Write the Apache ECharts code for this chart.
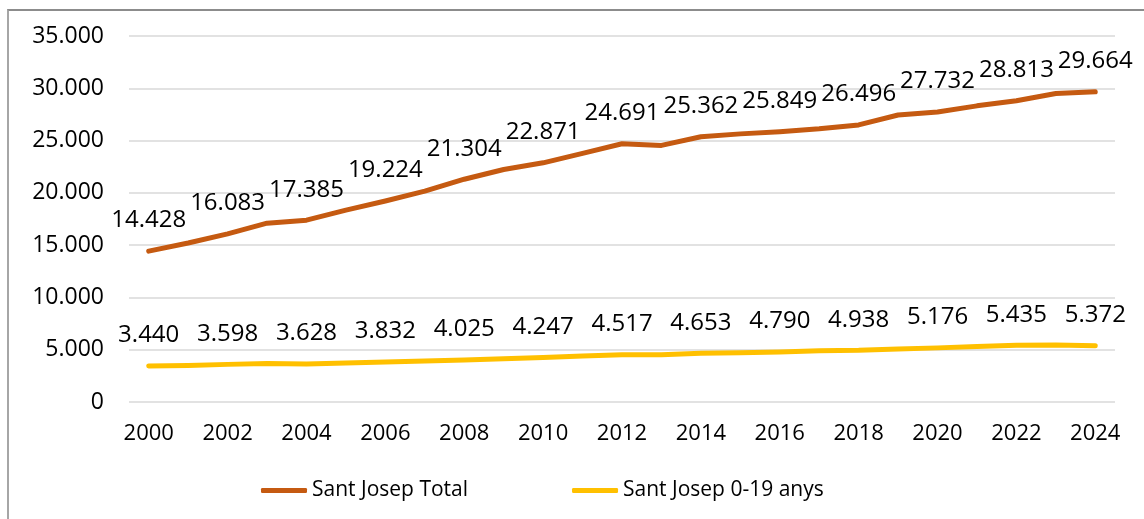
<!DOCTYPE html>
<html>
<head>
<meta charset="utf-8">
<script src="https://cdn.jsdelivr.net/npm/echarts@6/dist/echarts.min.js"></script>
<style>
  html, body { margin: 0; padding: 0; background: #fff; }
  #chart {
    position: absolute;
    left: 7px;
    top: 9px;
    width: 1137px;
    height: 510px;
    border-left: 2px solid #a6a6a6;
    border-top: 2px solid #8c8c8c;
    box-sizing: border-box;
  }
</style>
</head>
<body>
<div id="chart"></div>
<script>
// 年份与数值（从图上读取，奇数年份为估计值）
const years = ['2000', '2001', '2002', '2003', '2004', '2005', '2006', '2007', '2008', '2009',
  '2010', '2011', '2012', '2013', '2014', '2015', '2016', '2017', '2018', '2019',
  '2020', '2021', '2022', '2023', '2024']
const totalValues = [14428, 15200, 16083, 17100, 17385, 18350, 19224, 20160, 21304, 22230,
  22871, 23780, 24691, 24540, 25362, 25640, 25849, 26130, 26496, 27450,
  27732, 28320, 28813, 29500, 29664]
const youthValues = [3440, 3500, 3598, 3680, 3628, 3740, 3832, 3920, 4025, 4140,
  4247, 4390, 4517, 4530, 4653, 4720, 4790, 4900, 4938, 5060,
  5176, 5300, 5435, 5460, 5372]
const seriesNames = ['Sant Josep Total', 'Sant Josep 0-19 anys']
const seriesColors = ['#C55A11', '#FFC000']

const fontFamily = '"Open Sans", sans-serif'

// 千位分隔符用 '.'
const fmt = (v) => String(Math.round(v)).replace(/\B(?=(\d{3})+(?!\d))/g, '.')

const chart = echarts.init(document.getElementById('chart'))

const makeSeries = (name, values, color) => ({
  name,
  type: 'line',
  symbol: 'circle',
  symbolSize: 1,
  itemStyle: { color },
  lineStyle: { color, width: 5, cap: 'round', join: 'round' },
  label: {
    position: 'top',
    distance: 18,
    color: '#000',
    fontFamily,
    fontSize: 24,
    formatter: (p) => fmt(p.value)
  },
  // 只在偶数年份显示数值标签
  data: values.map((v, i) => ({ value: v, label: { show: i % 2 === 0 } })),
  animation: false
})

chart.setOption({
  textStyle: { fontFamily },
  grid: { left: 120, right: 29, top: 25, bottom: 117 },
  legend: {
    left: 247,
    top: 464,
    itemWidth: 46,
    itemHeight: 5,
    itemGap: 104,
    icon: 'roundRect',
    textStyle: { fontFamily, fontSize: 21, color: '#000' },
    data: seriesNames
  },
  xAxis: {
    type: 'category',
    boundaryGap: true,
    data: years,
    axisLine: { show: false },
    axisTick: { show: false },
    axisLabel: { interval: 1, color: '#000', fontSize: 22, fontFamily, margin: 21 }
  },
  yAxis: {
    type: 'value',
    min: 0,
    max: 35000,
    interval: 5000,
    axisLine: { show: false },
    axisTick: { show: false },
    axisLabel: { color: '#000', fontSize: 23, fontFamily, margin: 25, formatter: fmt },
    splitLine: { lineStyle: { color: '#d9d9d9', width: 1.5 } }
  },
  series: [
    makeSeries(seriesNames[0], totalValues, seriesColors[0]),
    makeSeries(seriesNames[1], youthValues, seriesColors[1])
  ]
})
</script>
</body>
</html>
